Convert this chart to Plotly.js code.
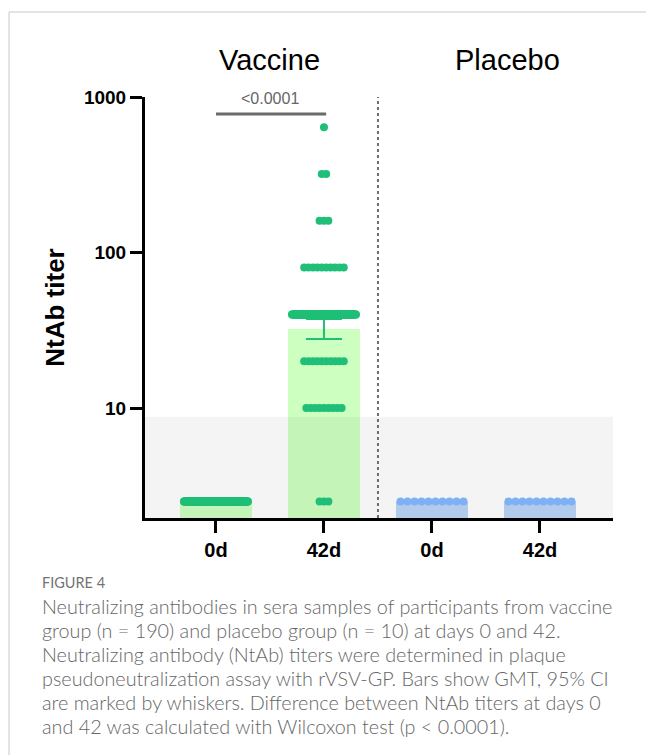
<!DOCTYPE html>
<html>
<head>
<meta charset="utf-8">
<script src="https://cdn.plot.ly/plotly-3.0.1.min.js"></script>
<style>html,body{margin:0;padding:0;background:#fff;}#chart{width:646px;height:755px;}</style>
</head>
<body>
<div id="chart"></div>
<script>
// ---- data ----
const categories = ['0d', '42d', '0d', '42d'];
const groups = ['Vaccine', 'Placebo'];
const gmt = [2.5, 32.2, 2.5, 2.5];
const ciLow = [2.5, 27.8, 2.5, 2.5];
const ciHigh = [2.5, 37.4, 2.5, 2.5];
const titerLevels = [2.5, 10, 20, 40, 80, 160, 320, 640];
const vaccine0dCounts  = [190, 0, 0, 0, 0, 0, 0, 0];
const vaccine42dCounts = [3, 9, 10, 152, 10, 3, 2, 1];
const placebo0dCounts  = [10, 0, 0, 0, 0, 0, 0, 0];
const placebo42dCounts = [10, 0, 0, 0, 0, 0, 0, 0];
const lod = 8.8;
const pValueText = '<0.0001';
const yTickVals = [10, 100, 1000];
const yTickText = ['10', '100', '1000'];
const captionHead = 'FIGURE 4';
const captionLines = [
  'Neutralizing antibodies in sera samples of participants from vaccine',
  'group (n = 190) and placebo group (n = 10) at days 0 and 42.',
  'Neutralizing antibody (NtAb) titers were determined in plaque',
  'pseudoneutralization assay with rVSV-GP. Bars show GMT, 95% CI',
  'are marked by whiskers. Difference between NtAb titers at days 0',
  'and 42 was calculated with Wilcoxon test (p < 0.0001).'
];

// ---- layout helpers ----
const W = 646, H = 755;
const M = {l: 145, r: 33, t: 97, b: 237};
const PW = W - M.l - M.r, PH = H - M.t - M.b;
const xRange = [-0.657, 3.676];
const yRange = [0.2926, 3];
const pxX = p => (p - M.l) / PW;
const pxY = p => 1 - (p - M.t) / PH;
const unitPerPx = (xRange[1] - xRange[0]) / PW;

function spread(center, counts, spacingPx, capPx) {
  const xs = [], ys = [];
  counts.forEach((n, i) => {
    if (!n) return;
    const span = Math.min(capPx, spacingPx * (n - 1)) * unitPerPx;
    for (let k = 0; k < n; k++) {
      const off = n === 1 ? 0 : -span / 2 + span * k / (n - 1);
      xs.push(center + off);
      ys.push(titerLevels[i]);
    }
  });
  return {x: xs, y: ys};
}

const green = '#1fbf77', blue = '#7eb0f4';
const v0 = spread(0, vaccine0dCounts, 4.4, 64);
const v42 = spread(1, vaccine42dCounts, 4.4, 64);
const p0 = spread(2, placebo0dCounts, 7, 64);
const p42 = spread(3, placebo42dCounts, 7, 64);

const traces = [
  {type: 'bar', x: [0, 1, 2, 3], y: gmt, width: 0.667,
   marker: {color: ['#ccffc0', '#ccffc0', '#b9d4f7', '#b9d4f7'], line: {width: 0}},
   hoverinfo: 'skip'},
  {type: 'scatter', mode: 'lines', x: [-2, 6, 6, -2, -2], y: [1, 1, lod, lod, 1],
   fill: 'toself', fillcolor: 'rgba(60,60,60,0.06)', line: {width: 0}, hoverinfo: 'skip'},
  {type: 'scatter', mode: 'markers', x: [1], y: [gmt[1]],
   marker: {size: 1, opacity: 0},
   error_y: {type: 'data', symmetric: false, array: [ciHigh[1] - gmt[1]], arrayminus: [gmt[1] - ciLow[1]],
             width: 18, thickness: 2, color: green}},
  {type: 'scatter', mode: 'markers', x: v0.x, y: v0.y, marker: {size: 8, color: green}},
  {type: 'scatter', mode: 'markers', x: v42.x, y: v42.y, marker: {size: 8, color: green}},
  {type: 'scatter', mode: 'markers', x: p0.x, y: p0.y, marker: {size: 8, color: blue}},
  {type: 'scatter', mode: 'markers', x: p42.x, y: p42.y, marker: {size: 8, color: blue}}
];

const font = 'Liberation Sans, Arial, sans-serif';
const capFont = 'Lato, Open Sans, sans-serif';
const annotations = [
  {xref: 'x', yref: 'paper', x: 0.5, y: pxY(60), text: groups[0], showarrow: false,
   font: {family: font, size: 29, color: '#000'}, xanchor: 'center', yanchor: 'middle'},
  {xref: 'x', yref: 'paper', x: 2.70, y: pxY(60), text: groups[1], showarrow: false,
   font: {family: font, size: 29, color: '#000'}, xanchor: 'center', yanchor: 'middle'},
  {xref: 'x', yref: 'paper', x: 0.5, y: pxY(98), text: pValueText, showarrow: false,
   font: {family: font, size: 16, color: '#666'}, xanchor: 'center', yanchor: 'middle'},
  {xref: 'paper', yref: 'paper', x: pxX(40), y: pxY(582), text: captionHead, showarrow: false,
   font: {family: capFont, size: 14.5, color: '#737373'}, xanchor: 'left', yanchor: 'middle'}
];
captionLines.forEach((t, i) => annotations.push({
  xref: 'paper', yref: 'paper', x: pxX(40), y: pxY(606 + 24 * i), text: t, showarrow: false,
  font: {family: capFont, size: 19.8, color: '#666666', weight: 300}, xanchor: 'left', yanchor: 'middle'
}));

const shapes = [
  {type: 'line', xref: 'paper', yref: 'paper', x0: pxX(9), x1: pxX(646), y0: pxY(12), y1: pxY(12),
   line: {color: '#c8c8c8', width: 1}},
  {type: 'line', xref: 'paper', yref: 'paper', x0: pxX(9), x1: pxX(9), y0: pxY(12), y1: pxY(755),
   line: {color: '#c8c8c8', width: 1}},
  {type: 'line', xref: 'x', yref: 'paper', x0: 1.5, x1: 1.5, y0: 0, y1: 1,
   line: {color: '#6e6e6e', width: 2, dash: 'dot'}},
  {type: 'line', xref: 'x', yref: 'paper', x0: 0, x1: 1.02, y0: pxY(114), y1: pxY(114),
   line: {color: '#6b6b6b', width: 3}}
];

const layout = {
  width: W, height: H, margin: M, showlegend: false,
  paper_bgcolor: '#fff', plot_bgcolor: 'rgba(0,0,0,0)',
  xaxis: {range: xRange, showgrid: false, zeroline: false, showline: true, linecolor: '#000', linewidth: 3,
          ticks: 'outside', ticklen: 12, tickwidth: 3, tickcolor: '#000',
          tickvals: [0, 1, 2, 3], ticktext: categories,
          tickfont: {family: font, size: 20, color: '#000', weight: 'bold'}},
  yaxis: {type: 'log', range: yRange, showgrid: false, zeroline: false, showline: true, linecolor: '#000', linewidth: 3,
          ticks: 'outside', ticklen: 12, tickwidth: 3, tickcolor: '#000',
          tickvals: yTickVals, ticktext: yTickText,
          tickfont: {family: font, size: 19, color: '#000', weight: 'bold'},
          title: {text: 'NtAb titer', font: {family: font, size: 26, color: '#000', weight: 'bold'}, standoff: 12}},
  annotations: annotations, shapes: shapes
};

Plotly.newPlot('chart', traces, layout, {displayModeBar: false, staticPlot: true});
</script>
</body>
</html>
